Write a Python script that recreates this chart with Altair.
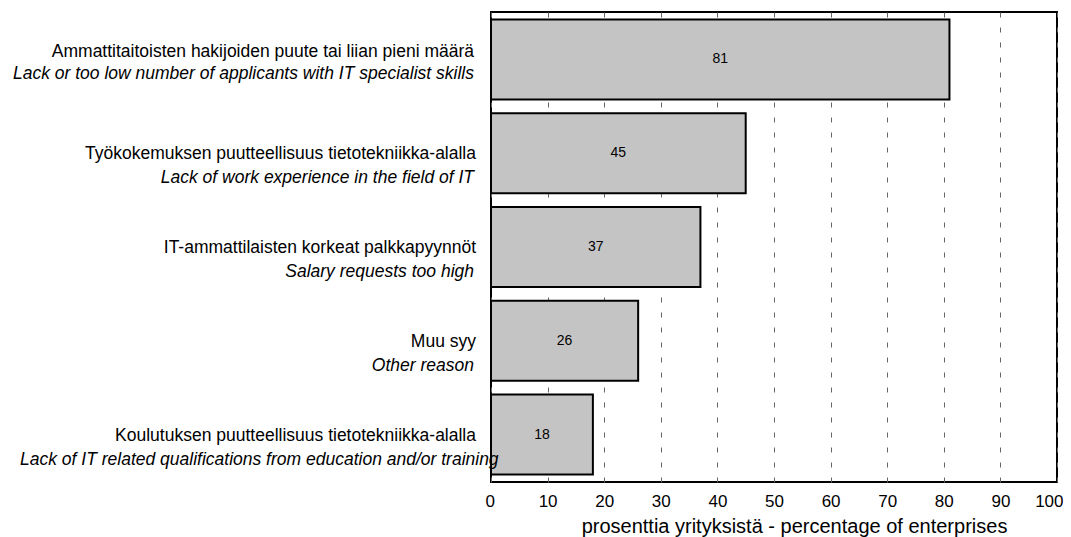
import altair as alt
import pandas as pd

labels_fi = [
    "Ammattitaitoisten hakijoiden puute tai liian pieni määrä",
    "Työkokemuksen puutteellisuus tietotekniikka-alalla",
    "IT-ammattilaisten korkeat palkkapyynnöt",
    "Muu syy",
    "Koulutuksen puutteellisuus tietotekniikka-alalla",
]
labels_en = [
    "Lack or too low number of applicants with IT specialist skills",
    "Lack of work experience in the field of IT",
    "Salary requests too high",
    "Other reason",
    "Lack of IT related qualifications from education and/or training",
]
values = [81, 45, 37, 26, 18]
ticks = [0, 10, 20, 30, 40, 50, 60, 70, 80, 90, 100]
x_title = "prosenttia yrityksistä - percentage of enterprises"

df = pd.DataFrame({"fi": labels_fi, "en": labels_en, "value": values})

FONT = "Liberation Sans"
LFS = 17.5

y_enc = alt.Y(
    "fi:N",
    sort=labels_fi,
    axis=None,
    scale=alt.Scale(paddingInner=0.147, paddingOuter=0.08),
)

base = alt.Chart(df)

bars = base.mark_bar(
    color="#c4c4c4", stroke="black", strokeWidth=2
).encode(
    x=alt.X(
        "value:Q",
        scale=alt.Scale(domain=[0, 100], nice=False),
        axis=alt.Axis(
            values=ticks,
            title=x_title,
            grid=True,
            gridDash=[5, 10],
            gridColor="#666666",
            gridWidth=1,
            domain=False,
            ticks=False,
            labelFlush=True,
            labelFlushOffset=6,
            labelFontSize=17,
            labelFont=FONT,
            labelColor="black",
            labelPadding=11,
            titleFont=FONT,
            titleFontSize=20,
            titleFontWeight="normal",
            titleColor="black",
            titlePadding=7,
            titleX=303,
        ),
    ),
    y=y_enc,
)

vals = base.mark_text(
    font=FONT, fontSize=14, color="black", align="center", baseline="middle"
).encode(
    x=alt.X("mid:Q"),
    y=y_enc,
    text=alt.Text("value:Q"),
).transform_calculate(mid="datum.value / 2")

first = labels_fi[0]
last = labels_fi[-1]

fi_first = base.mark_text(
    font=FONT, fontSize=LFS, color="black", align="right", baseline="middle", dy=-7
).encode(x=alt.value(-17), y=y_enc, text="fi:N").transform_filter(
    alt.datum.fi == first
)
fi_rest = base.mark_text(
    font=FONT, fontSize=LFS, color="black", align="right", baseline="middle", dy=1
).encode(x=alt.value(-15), y=y_enc, text="fi:N").transform_filter(
    alt.datum.fi != first
)
en_first = base.mark_text(
    font=FONT, fontSize=LFS, fontStyle="italic", color="black",
    align="right", baseline="middle", dy=15,
).encode(x=alt.value(-17), y=y_enc, text="en:N").transform_filter(
    alt.datum.fi == first
)
en_mid = base.mark_text(
    font=FONT, fontSize=LFS, fontStyle="italic", color="black",
    align="right", baseline="middle", dy=25,
).encode(x=alt.value(-17), y=y_enc, text="en:N").transform_filter(
    (alt.datum.fi != first) & (alt.datum.fi != last)
)
en_last = base.mark_text(
    font=FONT, fontSize=LFS, fontStyle="italic", color="black",
    align="left", baseline="middle", dy=25,
).encode(x=alt.value(-471), y=y_enc, text="en:N").transform_filter(
    alt.datum.fi == last
)

chart = alt.layer(
    bars, vals, fi_first, fi_rest, en_first, en_mid, en_last
).properties(
    width=566,
    height=470,
    background="white",
    autosize=alt.AutoSizeParams(type="none"),
    padding={"left": 483, "top": 4, "right": 6, "bottom": 55},
).configure_view(
    stroke="black", strokeWidth=2
)

chart.save("out.html", embed_options={"renderer": "svg", "actions": False})
